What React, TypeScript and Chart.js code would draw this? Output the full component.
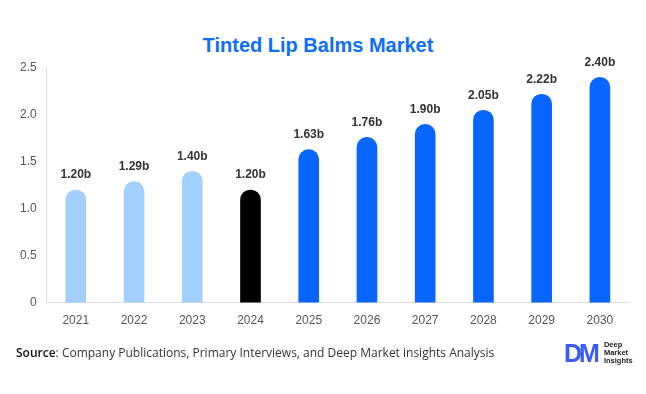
import React, { useEffect, useRef } from "react";
import { Chart, registerables } from "chart.js";

Chart.register(...registerables);

const years = ["2021", "2022", "2023", "2024", "2025", "2026", "2027", "2028", "2029", "2030"];
const values = [1.2, 1.29, 1.4, 1.2, 1.63, 1.76, 1.9, 2.05, 2.22, 2.4];
const valueLabels = ["1.20b", "1.29b", "1.40b", "1.20b", "1.63b", "1.76b", "1.90b", "2.05b", "2.22b", "2.40b"];
const barColors = ["#a3cfff", "#a3cfff", "#a3cfff", "#000000", "#0866ff", "#0866ff", "#0866ff", "#0866ff", "#0866ff", "#0866ff"];
const yTicks = [0, 0.5, 1.0, 1.5, 2.0, 2.5];

const labelPlugin = {
  id: "valueLabels",
  afterDatasetsDraw(chart: any) {
    const ctx = chart.ctx;
    const meta = chart.getDatasetMeta(0);
    ctx.save();
    ctx.font = "bold 12px 'Liberation Sans', Arial, sans-serif";
    ctx.fillStyle = "#333333";
    ctx.textAlign = "center";
    ctx.textBaseline = "bottom";
    meta.data.forEach((el: any, i: number) => {
      ctx.fillText(valueLabels[i], el.x, el.y - 9);
    });
    ctx.restore();
  },
};

export default function App() {
  const ref = useRef<HTMLCanvasElement>(null);
  useEffect(() => {
    document.body.style.margin = "0";
    const chart = new Chart(ref.current!, {
      type: "bar",
      data: {
        labels: years,
        datasets: [
          {
            data: values,
            backgroundColor: barColors,
            barThickness: 20,
            borderRadius: { topLeft: 10, topRight: 10, bottomLeft: 0, bottomRight: 0 },
            borderSkipped: false,
          },
        ],
      },
      options: {
        animation: false,
        responsive: false,
        maintainAspectRatio: false,
        layout: { padding: { top: 68, bottom: 55, left: 10, right: 17 } },
        plugins: { legend: { display: false }, tooltip: { enabled: false }, title: { display: false } },
        scales: {
          x: {
            grid: { display: false, drawTicks: false },
            border: { display: true, color: "#dddddd" },
            ticks: { color: "#555555", font: { size: 12, family: "'Liberation Sans', Arial, sans-serif" }, padding: 11 },
          },
          y: {
            min: 0,
            max: 2.5,
            afterBuildTicks: (axis: any) => {
              axis.ticks = yTicks.map((v) => ({ value: v }));
            },
            grid: { display: false, drawTicks: false },
            border: { display: true, color: "#dddddd" },
            ticks: {
              color: "#555555",
              font: { size: 12, family: "'Liberation Sans', Arial, sans-serif" },
              padding: 10,
              callback: (v: any) => (v === 0 ? "0" : Number(v).toFixed(1)),
            },
          },
        },
      },
      plugins: [labelPlugin],
    });
    return () => chart.destroy();
  }, []);

  return (
    <div style={{ position: "absolute", left: 0, top: 0, width: 646, height: 394, background: "#fff" }}>
      <div
        style={{
          position: "absolute",
          top: 34,
          left: 0,
          width: 636,
          textAlign: "center",
          fontFamily: "'Liberation Sans', Arial, sans-serif",
          fontWeight: "bold",
          fontSize: 20,
          color: "#0d6efd",
        }}
      >
        Tinted Lip Balms Market
      </div>
      <canvas ref={ref} width={646} height={394} style={{ position: "absolute", left: 0, top: 0 }} />
      <div
        style={{
          position: "absolute",
          top: 344,
          left: 16,
          fontFamily: "'Open Sans', sans-serif",
          fontSize: 12,
          color: "#333",
          whiteSpace: "nowrap",
        }}
      >
        <span style={{ color: "#111", fontWeight: 600 }}>Source</span>: Company Publications, Primary Interviews, and Deep Market insights Analysis
      </div>
      <div style={{ position: "absolute", top: 340, left: 564, display: "flex", alignItems: "center" }}>
        <div
          style={{
            fontFamily: "'Liberation Sans', Arial, sans-serif",
            fontWeight: "bold",
            fontSize: 25,
            lineHeight: "26px",
            color: "#3b5bff",
            letterSpacing: -3,
          }}
        >
          DM
        </div>
        <div
          style={{
            marginLeft: 7,
            fontFamily: "'Liberation Sans', Arial, sans-serif",
            fontWeight: "bold",
            fontSize: 7.5,
            lineHeight: "8px",
            color: "#222",
          }}
        >
          Deep
          <br />
          Market
          <br />
          Insights
        </div>
      </div>
    </div>
  );
}
